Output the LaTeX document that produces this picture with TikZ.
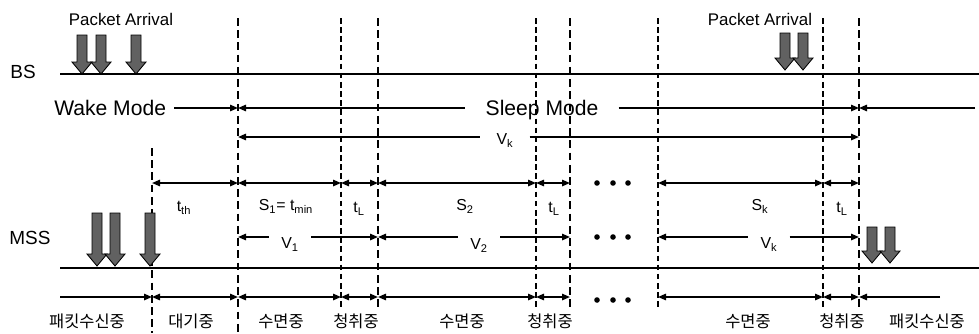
\documentclass[tikz,border=0pt]{standalone}
\usepackage{fontspec}
\setmainfont{Liberation Sans}
\newfontfamily\krfont{Noto Sans CJK KR}
\usetikzlibrary{calc, positioning, arrows.meta}

\begin{document}
\begin{tikzpicture}[
    x=0.25mm, y=-0.25mm,
    >={Triangle[length=2mm, width=1.6mm]},
    axis/.style={line width=1.7pt},
    span/.style={line width=1.2pt},
    bigdash/.style={line width=1.8pt, dash pattern=on 5.5pt off 3.2pt},
    smalldash/.style={line width=1pt, dash pattern=on 4pt off 2.5pt},
    pktfill/.style={fill=black!62, draw=black, line width=0.6pt},
    station/.style={font=\fontsize{13.5}{15}\selectfont},
    mode/.style={font=\fontsize{15}{17}\selectfont, text height=10.8pt, text depth=0pt, inner xsep=5mm},
    pkttext/.style={font=\fontsize{12}{14}\selectfont},
    tlab/.style={font=\fontsize{11.3}{13}\selectfont, text height=8.1pt, text depth=0pt},
    vlab/.style={tlab, inner xsep=3mm},
    kr/.style={font=\krfont\fontsize{11.7}{13}\selectfont},
    pics/pkt/.style={code={
        \filldraw[pktfill] (0,0) -- (-10,-12) -- (-5,-12) -- (-5,-#1)
            -- (5,-#1) -- (5,-12) -- (10,-12) -- cycle;
    }}
]
    \useasboundingbox (0,0) rectangle (979,333);

    % 1. Instantes (eixo x) e linhas (eixo y)
    \coordinate (rx) at (152,0); % fim da recepcao
    \coordinate (s1) at (238,0);
    \coordinate (l1) at (341,0);
    \coordinate (s2) at (378,0);
    \coordinate (l2) at (536,0);
    \coordinate (e2) at (570,0);
    \coordinate (sk) at (658,0);
    \coordinate (lk) at (823,0);
    \coordinate (ek) at (859,0);

    \coordinate (top) at (0,18);
    \coordinate (rxTop) at (0,148);
    \coordinate (bot) at (0,333);
    \coordinate (cut) at (0,308); % acima dos rotulos
    \coordinate (modeRow) at (0,108);
    \coordinate (vkRow) at (0,137);
    \coordinate (sRow) at (0,183);
    \coordinate (vRow) at (0,237);
    \coordinate (stRow) at (0,297);

    % 2. Linhas tracejadas verticais
    \foreach \c in {s2, e2, ek}
        \draw[bigdash] (\c |- top) -- (\c |- cut);
    \foreach \c in {l1, l2, sk, lk}
        \draw[smalldash] (\c |- top) -- (\c |- cut);
    \draw[bigdash] (s1 |- top) -- (s1 |- bot);
    \draw[bigdash] (rx |- rxTop) -- (rx |- bot);

    % 3. Eixos BS e MSS
    \coordinate (bsL) at (60,74);
    \coordinate (bsR) at (979,74);
    \coordinate (mssL) at (60,268);
    \coordinate (mssR) at (979,268);
    \draw[axis] (bsL) -- (bsR);
    \draw[axis] (mssL) -- (mssR);
    \node[station] (bs) at (23,72) {BS};
    \node[station] (mss) at (30,238) {MSS};

    % 4. Modos da BS
    \node[mode, anchor=west, inner xsep=2mm] (wake) at (46,108) {Wake Mode};
    \draw[span, ->] (wake.east) -- (s1 |- modeRow);
    \node[mode] (sleep) at (542,108) {Sleep Mode};
    \draw[span, <-] (s1 |- modeRow) -- (sleep.west);
    \draw[span, ->] (sleep.east) -- (ek |- modeRow);
    \coordinate (wakeR) at (975,108);
    \draw[span, ->] (wakeR) -- (ek |- modeRow);

    \node[vlab, inner xsep=4mm] (vktop) at (505,139) {V\textsubscript{k}};
    \draw[span, <-] (s1 |- vkRow) -- (vktop.west |- vkRow);
    \draw[span, ->] (vktop.east |- vkRow) -- (ek |- vkRow);

    % 5. Intervalos da MSS
    \foreach \a/\b in {rx/s1, s1/l1, l1/s2, s2/l2, l2/e2, sk/lk, lk/ek} {
        \draw[span, <->] (\a |- sRow) -- (\b |- sRow);
        \draw[span, <->] (\a |- stRow) -- (\b |- stRow);
    }
    \coordinate (stL) at (60,297);
    \coordinate (stR) at (940,297);
    \draw[span, ->] (stL) -- (rx |- stRow);
    \draw[span, ->] (stR) -- (ek |- stRow);

    \node[tlab] (tth) at (184,206) {t\textsubscript{th}};
    \node[tlab] (s1lab) at (286,205) {S\textsubscript{1}= t\textsubscript{min}};
    \node[tlab] (tl1) at (359,207) {t\textsubscript{L}};
    \node[tlab] (s2lab) at (465,205) {S\textsubscript{2}};
    \node[tlab] (tl2) at (554,207) {t\textsubscript{L}};
    \node[tlab] (sklab) at (760,205) {S\textsubscript{k}};
    \node[tlab] (tlk) at (842,207) {t\textsubscript{L}};

    % 6. Ciclos V
    \node[vlab] (v1) at (290,243) {V\textsubscript{1}};
    \draw[span, <-] (s1 |- vRow) -- (v1.west |- vRow);
    \draw[span, ->] (v1.east |- vRow) -- (s2 |- vRow);
    \node[vlab] (v2) at (479,244) {V\textsubscript{2}};
    \draw[span, <-] (s2 |- vRow) -- (v2.west |- vRow);
    \draw[span, ->] (v2.east |- vRow) -- (e2 |- vRow);
    \node[vlab] (vk) at (769,243) {V\textsubscript{k}};
    \draw[span, <-] (sk |- vRow) -- (vk.west |- vRow);
    \draw[span, ->] (vk.east |- vRow) -- (ek |- vRow);

    % 7. Reticencias
    \foreach \x in {597, 613, 628}
        \foreach \y in {183, 237, 300}
            \fill (\x,\y) circle (0.7mm);

    % 8. Chegada de pacotes
    \node[pkttext] (pa1) at (121,19) {Packet Arrival};
    \node[pkttext] (pa2) at (760,19) {Packet Arrival};
    \foreach \x in {82, 101, 136} \pic at (\x,74) {pkt=39};
    \foreach \x in {785, 803} \pic at (\x,70) {pkt=37};
    \foreach \x in {97, 115, 150} \pic at (\x,266) {pkt=53};
    \foreach \x in {872, 890} \pic at (\x,263) {pkt=36};

    % 9. Estados da MSS
    \node[kr] (rcv1) at (87,321) {패킷수신중};
    \node[kr] (idle) at (191,321) {대기중};
    \node[kr] (slp1) at (281,321) {수면중};
    \node[kr] (lsn1) at (356,321) {청취중};
    \node[kr] (slp2) at (462,321) {수면중};
    \node[kr] (lsn2) at (550,321) {청취중};
    \node[kr] (slpk) at (748,321) {수면중};
    \node[kr] (lsnk) at (842,321) {청취중};
    \node[kr] (rcv2) at (927,321) {패킷수신중};

\end{tikzpicture}
\end{document}
